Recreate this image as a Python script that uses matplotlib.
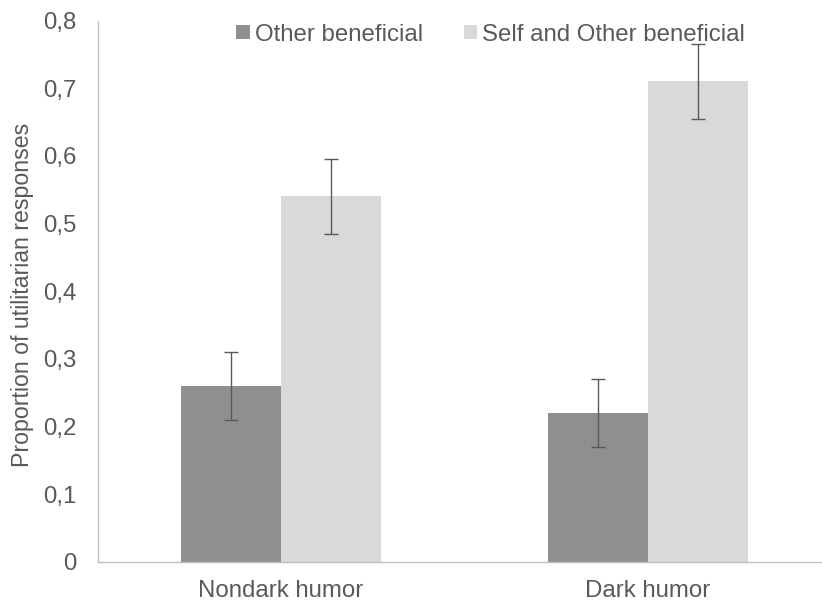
import matplotlib
matplotlib.use("Agg")
import matplotlib.pyplot as plt
import numpy as np

categories = ["Nondark humor", "Dark humor"]
series_names = ["Other beneficial", "Self and Other beneficial"]
other_vals = [0.26, 0.22]
other_err = [0.05, 0.05]
self_other_vals = [0.54, 0.71]
self_other_err = [0.055, 0.055]
yticks = [0, 0.1, 0.2, 0.3, 0.4, 0.5, 0.6, 0.7, 0.8]
ytick_labels = ["0", "0,1", "0,2", "0,3", "0,4", "0,5", "0,6", "0,7", "0,8"]

plt.rcParams['font.family'] = ['Liberation Sans', 'DejaVu Sans']
txt = '#595959'

fig = plt.figure(figsize=(8.22, 6.03), dpi=100)
ax = fig.add_axes([97.5/822, 41/603, 734/822, 541.5/603])

x = np.arange(len(categories))
w = 0.2725
ax.bar(x - w/2, other_vals, w, color='#8f8f8f', label=series_names[0], zorder=2)
ax.bar(x + w/2, self_other_vals, w, color='#d9d9d9', label=series_names[1], zorder=2)
ax.errorbar(x - w/2, other_vals, yerr=other_err, fmt='none', ecolor='#595959',
            elinewidth=1, capsize=5, capthick=1, zorder=3)
ax.errorbar(x + w/2, self_other_vals, yerr=self_other_err, fmt='none', ecolor='#595959',
            elinewidth=1, capsize=5, capthick=1, zorder=3)

ax.set_xlim(-0.5, 1.5)
ax.set_ylim(0, 0.8)
ax.set_yticks(yticks)
ax.set_yticklabels(ytick_labels)
ax.set_xticks(x)
ax.set_xticklabels(categories)
ax.tick_params(axis='both', length=0, labelsize=17.3, colors=txt)
ax.tick_params(axis='y', pad=15)
ax.tick_params(axis='x', pad=13)
for s in ['top', 'right']:
    ax.spines[s].set_visible(False)
for s in ['left', 'bottom']:
    ax.spines[s].set_color('#bfbfbf')
    ax.spines[s].set_linewidth(1)

ax.set_ylabel("Proportion of utilitarian responses", fontsize=16.7, color=txt)
ax.yaxis.set_label_coords(-0.087, 0.493)

leg = ax.legend(loc='upper center', bbox_to_anchor=(0.536, 1.021), ncol=2, frameon=False,
                fontsize=17.3, handlelength=0.55, handleheight=0.55, handletextpad=0.22,
                columnspacing=1.7, labelcolor=txt, borderaxespad=0.2)

fig.savefig("out.png", dpi=100)
